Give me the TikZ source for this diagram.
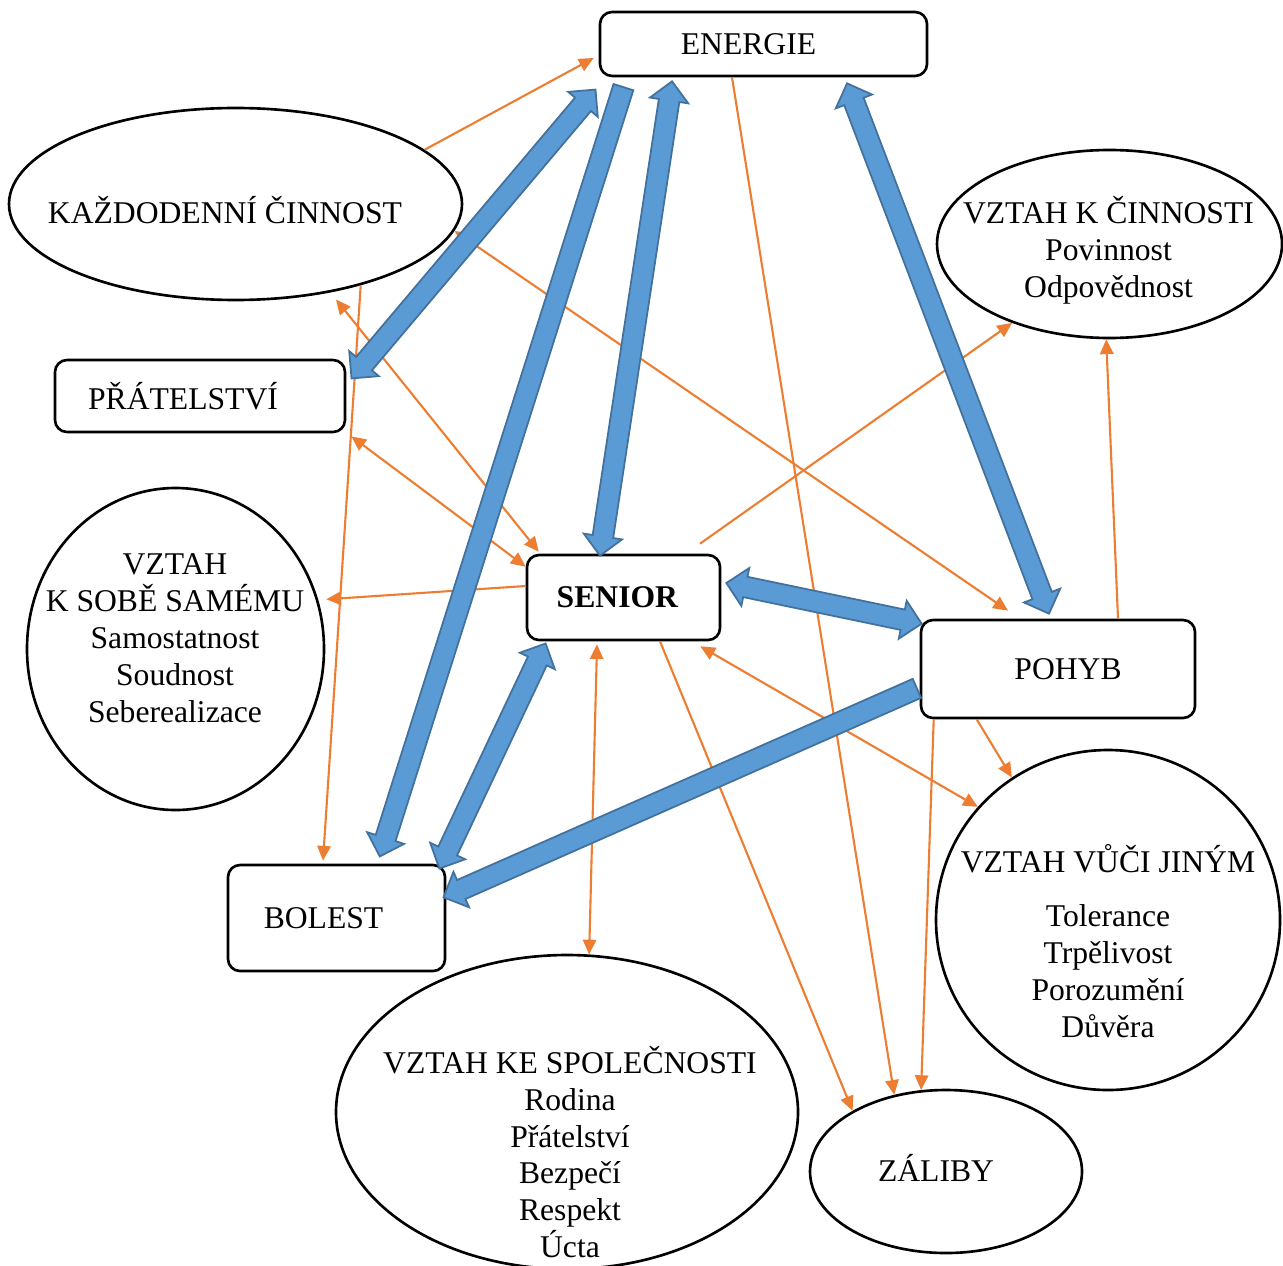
\documentclass[tikz,border=0pt]{standalone}
\usepackage{fontspec}
\setmainfont{Liberation Serif}
\usepackage{tikz}
\usetikzlibrary{arrows.meta}
\usetikzlibrary{shapes.geometric}
\usetikzlibrary{shapes.arrows}
\usetikzlibrary{calc}

\definecolor{oranz}{HTML}{ED7D31}
\definecolor{modra}{HTML}{5B9BD5}
\definecolor{modratm}{HTML}{41719C}

% thick blue block arrows: name, from, to
\newcommand{\jednasipka}[3]{%
	\path let \p1=($(#3)-(#2)$), \n1={veclen(\x1,\y1)}, \n2={atan2(\y1,\x1)} in
	node[tlusta, single arrow, anchor=tail, minimum height=\n1, rotate=\n2] (#1) at (#2) {};}
\newcommand{\dvesipka}[3]{%
	\path let \p1=($(#3)-(#2)$), \n1={veclen(\x1,\y1)}, \n2={atan2(\y1,\x1)} in
	node[tlusta, double arrow, minimum height=\n1, rotate=\n2] (#1) at ($(#2)!0.5!(#3)$) {};}

\begin{document}
\begin{tikzpicture}
	[font=\fontsize{9}{10.5}\selectfont,
	krabice/.style={draw, rounded corners=0.12cm, line width=0.75pt, inner sep=0},
	bublina/.style={draw, ellipse, line width=0.75pt, inner sep=0},
	popis/.style={align=center, inner sep=0},
	tlusta/.style={draw=modratm, fill=modra, line width=0.5pt, inner xsep=0, inner ysep=0.095cm,
		single arrow head extend=0.09cm, double arrow head extend=0.09cm,
		single arrow tip angle=90, double arrow tip angle=90},
	sipka/.style={draw=oranz, line width=0.6pt, -{Triangle[length=4.2pt,width=3.8pt]}},
	obe/.style={draw=oranz, line width=0.6pt, {Triangle[length=4.2pt,width=3.8pt]}-{Triangle[length=4.2pt,width=3.8pt]}}]
	\useasboundingbox (0,0) rectangle (12.83,-12.65);
	
	\node[krabice, minimum width=3.27cm, minimum height=0.64cm] (energie) at (7.635,-0.44) {ENERGIE\kern0.30cm};
	\node[bublina, minimum width=4.53cm, minimum height=1.92cm] (kazd) at (2.355,-2.04) {};
	\node[bublina, minimum width=3.45cm, minimum height=1.88cm] (cinnost) at (11.095,-2.44) {};
	\node[krabice, minimum width=2.90cm, minimum height=0.72cm] (pratel) at (2.00,-3.96) {PŘÁTELSTVÍ\kern0.34cm};
	\node[bublina, minimum width=2.97cm, minimum height=3.22cm] (sobe) at (1.755,-6.49) {};
	\node[krabice, minimum width=1.93cm, minimum height=0.85cm] (senior) at (6.235,-5.975) {\textbf{SENIOR}\kern0.12cm};
	\node[krabice, minimum width=2.74cm, minimum height=0.98cm] (pohyb) at (10.58,-6.69) {\kern0.2cm POHYB};
	\node[bublina, minimum width=3.44cm, minimum height=3.40cm] (jinym) at (11.08,-9.20) {};
	\node[krabice, minimum width=2.17cm, minimum height=1.06cm] (bolest) at (3.365,-9.18) {BOLEST\kern0.26cm};
	\node[bublina, minimum width=4.62cm, minimum height=3.14cm] (spol) at (5.67,-11.12) {};
	\node[bublina, minimum width=2.72cm, minimum height=1.63cm] (zaliby) at (9.46,-11.715) {};
	
	\node[popis] (kazdtext) at (2.25,-2.10) {KAŽDODENNÍ ČINNOST};
	\node[popis] (cinnosttext) at (11.085,-2.50) {VZTAH K ČINNOSTI\\Povinnost\\Odpovědnost};
	\node[popis] (sobetext) at (1.75,-6.38) {VZTAH\\K SOBĚ SAMÉMU\\Samostatnost\\Soudnost\\Seberealizace};
	\node[popis] (jinymtext) at (11.08,-9.41) {VZTAH VŮČI JINÝM\\[5pt]Tolerance\\Trpělivost\\Porozumění\\Důvěra};
	\node[popis] (spoltext) at (5.70,-11.52) {VZTAH KE SPOLEČNOSTI\\Rodina\\Přátelství\\Bezpečí\\Respekt\\Úcta};
	\node[popis] (zalibytext) at (9.36,-11.68) {ZÁLIBY};
	
	% thin orange links
	\draw[sipka] (kazd.16) -- ([shift={(-0.05,-0.14)}]energie.west);
	\draw[sipka] ([xshift=-0.315cm]energie.south) -- (zaliby.124);
	\draw[obe] (kazd.353) -- ([shift={(-0.50,0.08)}]pohyb.north);
	\draw[sipka] (kazd.327) -- ([shift={(-0.135,0.03)}]bolest.north);
	\draw[obe, shorten <=0.09cm] (kazd.317) -- ([shift={(0.13,0.02)}]senior.north west);
	\draw[obe] ([shift={(0.05,-0.03)}]pratel.south east) -- ([yshift=-0.13cm]senior.north west);
	\draw[sipka, shorten >=0.08cm] ([yshift=0.115cm]senior.west) -- (sobe.19);
	\draw[sipka] ([shift={(0.765,0.10)}]senior.north) -- (cinnost.219);
	\draw[sipka] ([xshift=0.60cm]pohyb.north) -- (cinnost.268);
	\draw[obe] ([shift={(-0.265,-0.03)}]senior.south) -- (spol.82);
	\draw[sipka] ([xshift=0.365cm]senior.south) -- (zaliby.147);
	\draw[obe] ([shift={(-0.21,-0.05)}]senior.south east) -- (jinym.139);
	\draw[sipka] ([xshift=0.57cm]pohyb.south west) -- (jinym.124);
	\draw[sipka] ([xshift=0.14cm]pohyb.south west) -- (zaliby.107);
	
	% thick blue links
	\dvesipka{en-pr}{[shift={(-0.03,-0.12)}]energie.south west}{[shift={(0.05,-0.20)}]pratel.north east}
	\jednasipka{en-bo}{[shift={(0.25,-0.09)}]energie.south west}{[shift={(0.435,0.08)}]bolest.north}
	\dvesipka{se-en}{[shift={(-0.235,-0.02)}]senior.north}{[shift={(-0.915,-0.04)}]energie.south}
	\dvesipka{en-po}{[shift={(0.835,-0.06)}]energie.south}{[shift={(-0.09,0.05)}]pohyb.north}
	\dvesipka{se-po}{[shift={(0.05,0.145)}]senior.east}{[shift={(0.02,-0.05)}]pohyb.north west}
	\dvesipka{se-bo}{[shift={(0.20,-0.02)}]senior.south west}{[shift={(-0.07,-0.05)}]bolest.north east}
	\jednasipka{po-bo}{[shift={(-0.02,-0.19)}]pohyb.west}{[shift={(-0.02,0.21)}]bolest.east}
\end{tikzpicture}
\end{document}
